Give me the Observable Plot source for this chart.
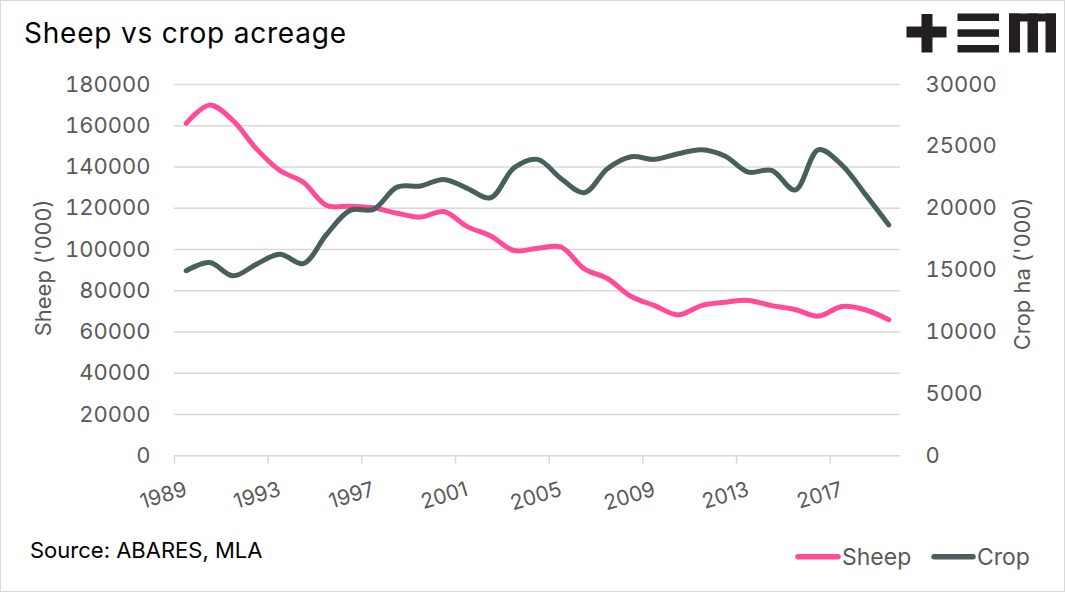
<!DOCTYPE html>
<html>
<head>
<meta charset="utf-8">
<script src="https://cdn.jsdelivr.net/npm/d3@7"></script>
<script src="https://cdn.jsdelivr.net/npm/@observablehq/plot@0.6"></script>
<style>
  body { margin: 0; background: #fff; }
  #wrap { position: relative; width: 1065px; height: 592px; overflow: hidden; font-family: Inter, "Noto Sans", sans-serif; background: #fff; }
  #chart { position: absolute; left: 0; top: 0; }
  #frame { position: absolute; left: 0; top: 0; width: 1063px; height: 590px; border: 1px solid #d9d9d9; pointer-events: none; }
  #title { position: absolute; left: 24px; top: 19px; font-size: 28px; line-height: 28px; color: #000; white-space: nowrap; letter-spacing: 0.8px; }
  #source { position: absolute; left: 30px; top: 539px; font-size: 22px; line-height: 22px; color: #000; white-space: nowrap; }
  .ytitle { position: absolute; font-size: 22px; line-height: 22px; color: #595959; white-space: nowrap; transform: translate(-50%, -50%) rotate(-90deg); }
  #logo, #legend { position: absolute; }
</style>
</head>
<body>
<div id="wrap">
  <div id="chart"></div>
  <div id="title">Sheep vs crop acreage</div>
  <svg id="logo" style="left:900px;top:8px" width="165" height="52" viewBox="900 8 165 52">
    <g fill="#231f20">
      <rect x="906.5" y="26.5" width="40" height="11"/>
      <rect x="921.5" y="14" width="11" height="38.5"/>
      <rect x="957.5" y="13.5" width="41.5" height="7.5"/>
      <rect x="957.5" y="29.3" width="41.5" height="7.5"/>
      <rect x="957.5" y="45" width="41.5" height="7.5"/>
      <rect x="1009" y="13.5" width="47" height="8"/>
      <rect x="1009" y="13.5" width="11" height="39"/>
      <rect x="1027.5" y="13.5" width="10.5" height="39"/>
      <rect x="1045.5" y="13.5" width="10.5" height="39"/>
    </g>
  </svg>
  <div class="ytitle" style="left:43px;top:268px">Sheep ('000)</div>
  <div class="ytitle" style="left:1022px;top:274px">Crop ha ('000)</div>
  <div id="source">Source: ABARES, MLA</div>
  <svg id="legend" style="left:780px;top:535px" width="285" height="45">
    <line x1="18" y1="21.7" x2="58" y2="21.7" stroke="#ff4b98" stroke-width="5.5" stroke-linecap="round"/>
    <text x="62" y="30" font-size="23" fill="#595959" font-family="Inter, sans-serif">Sheep</text>
    <line x1="154" y1="21.7" x2="193" y2="21.7" stroke="#4a5e5e" stroke-width="5.5" stroke-linecap="round"/>
    <text x="197" y="30" font-size="23" fill="#595959" font-family="Inter, sans-serif">Crop</text>
  </svg>
  <div id="frame"></div>
</div>
<script>
// ---- data ----
const years = [1989,1990,1991,1992,1993,1994,1995,1996,1997,1998,1999,2000,2001,2002,2003,2004,2005,2006,2007,2008,2009,2010,2011,2012,2013,2014,2015,2016,2017,2018,2019];
const sheep = [161200,170000,162500,148800,138300,132600,121300,121000,120200,117600,115700,118400,111100,106500,99500,100600,101200,90600,85800,77200,72800,68300,72800,74400,75300,72800,70900,67700,72400,70800,65900];
const crop  = [14950,15610,14540,15480,16290,15530,17900,19830,19910,21710,21800,22330,21610,20850,23270,23950,22410,21260,23220,24160,23950,24400,24730,24220,22920,23060,21470,24730,23490,21120,18650];
const sheepTicks = [0,20000,40000,60000,80000,100000,120000,140000,160000,180000];
const cropTicks = [0,5000,10000,15000,20000,25000,30000];
const labelYears = [1989,1993,1997,2001,2005,2009,2013,2017];

const pink = "#ff4b98";
const slate = "#4a5e5e";
const grid = "#d9d9d9";

const sheepMax = sheepTicks[sheepTicks.length - 1];
const cropMax = cropTicks[cropTicks.length - 1];
const ratio = sheepMax / cropMax;

const rows = years.map((year, i) => ({year, sheep: sheep[i], crop: crop[i]}));
const firstYear = years[0], lastYear = years[years.length - 1];
// category boundaries every 4 years (Excel "between tick marks")
const tickBounds = labelYears.map(y => y - 0.5);

const chart = Plot.plot({
  width: 1065,
  height: 592,
  marginLeft: 174,
  marginRight: 165,
  marginTop: 84,
  marginBottom: 136.75,
  x: {domain: [firstYear - 0.5, lastYear + 0.5]},
  y: {domain: [0, sheepMax]},
  style: {fontFamily: "Inter, 'Noto Sans', sans-serif", fontSize: "22px", color: "#595959", background: "transparent", overflow: "visible"},
  marks: [
    Plot.ruleY(sheepTicks, {stroke: grid, strokeWidth: 1.5}),
    Plot.axisX({ticks: tickBounds, tickSize: 8.5, tickFormat: () => "", stroke: grid, strokeWidth: 1.5, strokeOpacity: 1, label: null}),
    Plot.text(labelYears, {x: d => d, text: d => String(d), frameAnchor: "bottom", dy: 33, rotate: -17, textAnchor: "end", lineAnchor: "middle", fontSize: 21, fill: "#595959"}),
    Plot.axisY({ticks: sheepTicks, tickSize: 0, tickPadding: 24, tickFormat: d3.format("d"), label: null}),
    Plot.axisY({anchor: "right", ticks: cropTicks.map(d => d * ratio), tickSize: 0, tickPadding: 25, tickFormat: d => d3.format("d")(Math.round(d / ratio)), label: null}),
    Plot.line(rows, {x: "year", y: "sheep", stroke: pink, strokeWidth: 5, curve: "catmull-rom", strokeLinecap: "round", strokeLinejoin: "round"}),
    Plot.line(rows, {x: "year", y: d => d.crop * ratio, stroke: slate, strokeWidth: 5, curve: "catmull-rom", strokeLinecap: "round", strokeLinejoin: "round"})
  ]
});
document.getElementById("chart").appendChild(chart);
</script>
</body>
</html>
